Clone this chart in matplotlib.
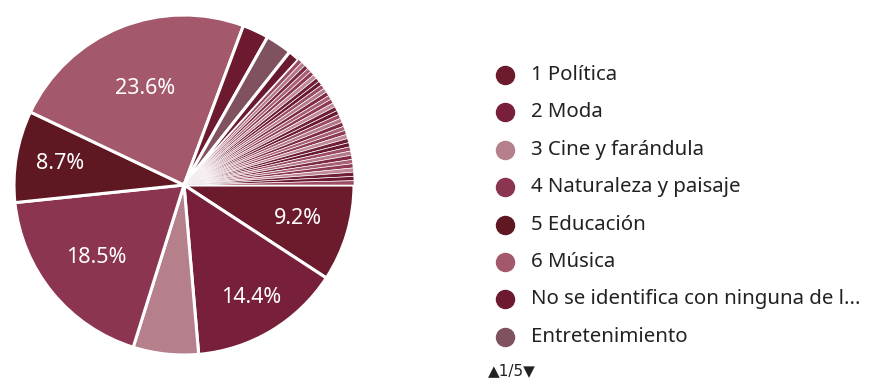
import matplotlib.pyplot as plt
from matplotlib.lines import Line2D

plt.rcParams["font.family"] = ["Noto Sans", "DejaVu Sans"]

# slice shares in percent, clockwise from 3 o'clock
named_labels = [
    "1 Política",
    "2 Moda",
    "3 Cine y farándula",
    "4 Naturaleza y paisaje",
    "5 Educación",
    "6 Música",
    "No se identifica con ninguna de l...",
    "Entretenimiento",
]
named_values = [9.2, 14.4, 6.2, 18.5, 8.7, 23.6, 2.5, 2.5]
named_colors = ["#6c1b2c", "#78203a", "#b5808c", "#8b3550",
                "#5f1722", "#a3586c", "#6d1a30", "#80525f"]

# long tail of categories with one answer each
tail_values = [1.1] + [0.4] * 33
tail_colors = ["#6a1a2e", "#9c4c64", "#b37a8a", "#7d2a42", "#a86075",
               "#8e3a55", "#c08a98", "#702036"]

values = named_values + tail_values
colors = named_colors + [tail_colors[i % len(tail_colors)] for i in range(len(tail_values))]

# radial position of the percent labels, per labelled slice
label_radius = [0.70, 0.77, None, 0.67, 0.74, 0.61]

W, H = 882, 381
fig = plt.figure(figsize=(W / 100, H / 100), dpi=100)
cx, cy, r = 184, 185, 170
ax = fig.add_axes([(cx - r) / W, (H - cy - r) / H, 2 * r / W, 2 * r / H])

wedges, texts, pcts = ax.pie(
    values, colors=colors, startangle=0, counterclock=False,
    autopct=lambda p: f"{p:.1f}%" if p >= 8 else "",
    pctdistance=0.68,
    wedgeprops=dict(edgecolor="white", linewidth=2.2),
    textprops=dict(color="white", fontsize=15.5),
)
for w in wedges[len(named_values) + 1:]:
    w.set_linewidth(0.45)
for t, rad in zip(pcts, label_radius):
    if rad is None:
        continue
    x, y = t.get_position()
    d = (x * x + y * y) ** 0.5
    t.set_position((x / d * rad, y / d * rad))
ax.set_xlim(-1, 1)
ax.set_ylim(-1, 1)
ax.set_aspect("equal")

# legend, first page only
y0, dy = 75, 37.4
for i, (lab, col) in enumerate(zip(named_labels, named_colors)):
    y = 1 - (y0 + i * dy) / H
    fig.add_artist(Line2D([505 / W], [y], marker="o", markersize=13,
                          color=col, linestyle="none"))
    fig.text(531 / W, y, lab, fontsize=14.7, color="#222222", va="center", ha="left")

fig.text(488 / W, 1 - 371 / H, "▲1/5▼", fontsize=11, color="#222222",
         va="center", ha="left", family=["DejaVu Sans"])

fig.savefig("out.png", dpi=100)
